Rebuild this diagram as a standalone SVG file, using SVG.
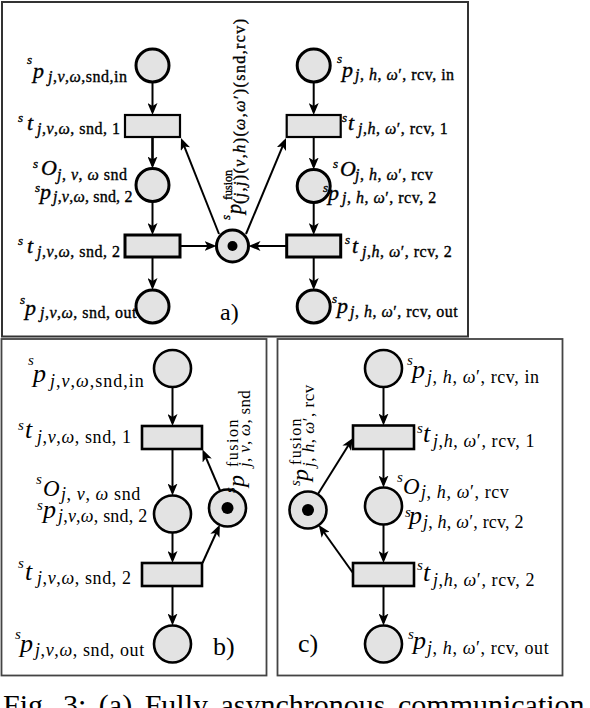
<svg xmlns="http://www.w3.org/2000/svg" width="590" height="708" viewBox="0 0 590 708">
<style>
.frame{fill:none;stroke:#333;stroke-width:2}
.pl{fill:#e3e3e3;stroke:#000}
.pa{stroke-width:3}
.pb{stroke-width:2.6}
.tk{fill:#000;stroke:none}
.ar{stroke:#000;stroke-width:2;fill:none;marker-end:url(#ah)}
.t{font-family:"Liberation Serif","Times New Roman",serif;fill:#000}
.ta{stroke:#000;stroke-width:0.35}
.i{font-style:italic}
.ma{font-size:22px;font-style:italic}
.sa{font-size:13px;font-style:italic}
.ba{font-size:16px;letter-spacing:0.5px}
.mb{font-size:26px;font-style:italic}
.ss{font-size:15px;font-style:italic}
.bb{font-size:18px;letter-spacing:0.6px}
.lt{font-size:26px}
</style>
<defs>
<marker id="ah" viewBox="0 0 12 10" markerWidth="12" markerHeight="10" refX="9" refY="5" orient="auto" markerUnits="userSpaceOnUse"><path d="M0,0 L12,5 L0,10 L3,5 z" fill="#000"/></marker>
</defs>

<rect class="frame" x="2" y="2" width="466" height="334.5"/>
<rect class="frame" x="1.5" y="339" width="265" height="336.5" style="stroke:#444;stroke-width:1.8"/>
<rect class="frame" x="277.5" y="339" width="285" height="336.5" style="stroke:#444;stroke-width:1.8"/>

<g id="connectors">
<line class="ar" x1="152.5" y1="82" x2="152.5" y2="112"/>
<line class="ar" x1="152.5" y1="137" x2="152.5" y2="165.5" style="stroke-width:2.6"/>
<line class="ar" x1="152.5" y1="201.5" x2="152.5" y2="232"/>
<line class="ar" x1="152.5" y1="257" x2="152.5" y2="287"/>
<line class="ar" x1="313.7" y1="82" x2="313.7" y2="112"/>
<line class="ar" x1="313.7" y1="137" x2="313.7" y2="166.5"/>
<line class="ar" x1="313.7" y1="202.5" x2="313.7" y2="232"/>
<line class="ar" x1="313.7" y1="257" x2="313.7" y2="287"/>
<line class="ar" x1="180" y1="246" x2="213.5" y2="246"/>
<line class="ar" x1="286.7" y1="246" x2="251.5" y2="246"/>
<line class="ar" x1="219" y1="234" x2="182.1" y2="140.8"/>
<line class="ar" x1="246" y1="234" x2="284.85" y2="140.8"/>

<line class="ar" x1="172.5" y1="387" x2="172.5" y2="423"/>
<line class="ar" x1="172.5" y1="449" x2="172.5" y2="492.5"/>
<line class="ar" x1="172.5" y1="532.5" x2="172.5" y2="560"/>
<line class="ar" x1="172.5" y1="586" x2="172.5" y2="622.5"/>
<line class="ar" x1="220.2" y1="491" x2="203.7" y2="452.3"/>
<line class="ar" x1="202.5" y1="563" x2="218.6" y2="527.5"/>

<line class="ar" x1="383.5" y1="387" x2="383.5" y2="422.5"/>
<line class="ar" x1="383.5" y1="449" x2="383.5" y2="484.5"/>
<line class="ar" x1="383.5" y1="524.5" x2="383.5" y2="560"/>
<line class="ar" x1="383.5" y1="586" x2="383.5" y2="622.5"/>
<line class="ar" x1="317.8" y1="494.3" x2="351.4" y2="440.5"/>
<line class="ar" x1="353" y1="573" x2="320.5" y2="527.5"/>
</g>

<!-- Panel a -->
<g id="a-p-snd-in"><circle class="pl pa" cx="152.5" cy="65.5" r="16.5"/>
<text class="t ta" x="27" y="64"><tspan class="sa">s</tspan><tspan class="ma" x="33" y="78">p</tspan><tspan class="ba" x="48" y="82"><tspan class="i">j</tspan>,<tspan class="i">v</tspan>,<tspan class="i">ω</tspan>,snd,in</tspan></text></g>
<g id="a-t-snd-1"><rect class="pl" x="125" y="115" width="55" height="22" style="stroke-width:2.2"/>
<text class="t ta" x="18" y="122"><tspan class="sa">s</tspan><tspan class="ma" x="27" y="130">t</tspan><tspan class="ba" x="37" y="134"><tspan class="i">j</tspan>,<tspan class="i">v</tspan>,<tspan class="i">ω</tspan>, snd, 1</tspan></text></g>
<g id="a-p-snd-2"><circle class="pl pa" cx="152.5" cy="185" r="16.5"/>
<text class="t ta" x="33" y="168"><tspan class="sa">s</tspan><tspan class="ma" x="41" y="175">O</tspan><tspan class="ba" x="57" y="180"><tspan class="i">j</tspan>, <tspan class="i">v</tspan>, <tspan class="i">ω</tspan> snd</tspan></text>
<text class="t ta" x="35" y="192"><tspan class="sa">s</tspan><tspan class="ma" x="40" y="199">p</tspan><tspan class="ba" style="letter-spacing:0.2px" x="53" y="202"><tspan class="i">j</tspan>,<tspan class="i">v</tspan>,<tspan class="i">ω</tspan>, snd, 2</tspan></text></g>
<g id="a-t-snd-2"><rect class="pl" x="125" y="235" width="55" height="22" style="stroke-width:3"/>
<text class="t ta" x="18" y="245"><tspan class="sa">s</tspan><tspan class="ma" x="27" y="253">t</tspan><tspan class="ba" x="37" y="257"><tspan class="i">j</tspan>,<tspan class="i">v</tspan>,<tspan class="i">ω</tspan>, snd, 2</tspan></text></g>
<g id="a-p-snd-out"><circle class="pl pa" cx="152.5" cy="306.5" r="16.5"/>
<text class="t ta" x="20" y="304"><tspan class="sa">s</tspan><tspan class="ma" x="25" y="315">p</tspan><tspan class="ba" x="40" y="318"><tspan class="i">j</tspan>,<tspan class="i">v</tspan>,<tspan class="i">ω</tspan>, snd, out</tspan></text></g>

<g id="a-p-rcv-in"><circle class="pl pa" cx="313.7" cy="65.5" r="16.5"/>
<text class="t ta" x="337" y="63"><tspan class="sa">s</tspan><tspan class="ma" x="342" y="77">p</tspan><tspan class="ba" x="355" y="80"><tspan class="i">j</tspan>, <tspan class="i">h</tspan>, <tspan class="i">ω</tspan>′, rcv, in</tspan></text></g>
<g id="a-t-rcv-1"><rect class="pl" x="286.7" y="115" width="54" height="22" style="stroke-width:2.2"/>
<text class="t ta" x="342" y="122"><tspan class="sa">s</tspan><tspan class="ma" x="348" y="130">t</tspan><tspan class="ba" x="358" y="134"><tspan class="i">j</tspan>,<tspan class="i">h</tspan>, <tspan class="i">ω</tspan>′, rcv, 1</tspan></text></g>
<g id="a-p-rcv-2"><circle class="pl pa" cx="313.7" cy="186" r="16.5"/>
<text class="t ta" x="333" y="168"><tspan class="sa">s</tspan><tspan class="ma" x="340" y="176">O</tspan><tspan class="ba" x="355" y="180"><tspan class="i">j</tspan>, <tspan class="i">h</tspan>, <tspan class="i">ω</tspan>′, rcv</tspan></text>
<text class="t ta" x="323" y="192"><tspan class="sa">s</tspan><tspan class="ma" x="328" y="200">p</tspan><tspan class="ba" x="342" y="203"><tspan class="i">j</tspan>, <tspan class="i">h</tspan>, <tspan class="i">ω</tspan>′, rcv, 2</tspan></text></g>
<g id="a-t-rcv-2"><rect class="pl" x="286.7" y="235" width="54" height="22" style="stroke-width:3"/>
<text class="t ta" x="345" y="244"><tspan class="sa">s</tspan><tspan class="ma" x="352" y="253">t</tspan><tspan class="ba" x="362" y="257"><tspan class="i">j</tspan>,<tspan class="i">h</tspan>, <tspan class="i">ω</tspan>′, rcv, 2</tspan></text></g>
<g id="a-p-rcv-out"><circle class="pl pa" cx="313.7" cy="306.5" r="16.5"/>
<text class="t ta" x="332" y="303"><tspan class="sa">s</tspan><tspan class="ma" x="337" y="313">p</tspan><tspan class="ba" x="350" y="317"><tspan class="i">j</tspan>, <tspan class="i">h</tspan>, <tspan class="i">ω</tspan>′, rcv, out</tspan></text></g>
<g id="a-p-fusion"><circle class="pl pa" cx="232.5" cy="246" r="16"/><circle class="tk" cx="232.5" cy="246" r="5"/>
<g transform="translate(241,220) rotate(-90)"><text class="t ta" x="0" y="-11"><tspan class="sa">s</tspan><tspan style="font-size:20px;font-style:italic" x="6" y="0">p</tspan><tspan style="font-size:12px" x="20" y="-9">fusion</tspan><tspan style="font-size:16px;letter-spacing:1.4px" x="16" y="4">(<tspan class="i">j</tspan>,<tspan class="i">j</tspan>)(<tspan class="i">v</tspan>,<tspan class="i">h</tspan>)(<tspan class="i">ω</tspan>,<tspan class="i">ω</tspan>′)(snd,rcv)</tspan></text></g></g>
<text class="t lt" x="220" y="320" style="font-size:24px">a)</text>

<!-- Panel b -->
<g id="b-p-snd-in"><circle class="pl pb" cx="172.5" cy="368.5" r="18.5"/>
<text class="t" x="28" y="365"><tspan class="ss">s</tspan><tspan class="mb" x="33" y="382">p</tspan><tspan class="bb" style="letter-spacing:1px" x="50" y="387"><tspan class="i">j</tspan>,<tspan class="i">v</tspan>,<tspan class="i">ω</tspan>,snd,in</tspan></text></g>
<g id="b-t-snd-1"><rect class="pl pb" x="142" y="426" width="60" height="23"/>
<text class="t" x="18" y="430"><tspan class="ss">s</tspan><tspan class="mb" x="25" y="438">t</tspan><tspan class="bb" x="37" y="443"><tspan class="i">j</tspan>,<tspan class="i">v</tspan>,<tspan class="i">ω</tspan>, snd, 1</tspan></text></g>
<g id="b-p-snd-2"><circle class="pl pb" cx="172.5" cy="514" r="18.5"/>
<text class="t" x="36" y="484"><tspan class="ss">s</tspan><tspan class="mb" style="font-size:23px" x="43" y="496">O</tspan><tspan class="bb" x="61" y="500"><tspan class="i">j</tspan>, <tspan class="i">v</tspan>, <tspan class="i">ω</tspan> snd</tspan></text>
<text class="t" x="37" y="510"><tspan class="ss">s</tspan><tspan class="mb" x="43" y="518">p</tspan><tspan class="bb" style="letter-spacing:0.2px" x="58" y="522"><tspan class="i">j</tspan>,<tspan class="i">v</tspan>,<tspan class="i">ω</tspan>, snd, 2</tspan></text></g>
<g id="b-p-fusion"><circle class="pl pb" cx="227.5" cy="508" r="18.5"/><circle class="tk" cx="227.5" cy="508" r="6"/>
<g transform="translate(244,493) rotate(-90)"><text class="t" x="0" y="-9"><tspan class="ss">s</tspan><tspan class="mb" style="font-size:24px" x="6" y="0">p</tspan><tspan style="font-size:16px;letter-spacing:1.5px" x="26" y="-6">fusion</tspan><tspan style="font-size:17px;letter-spacing:0.3px" x="26" y="6"><tspan class="i">j</tspan>, <tspan class="i">v</tspan>, <tspan class="i">ω</tspan>, snd</tspan></text></g></g>
<g id="b-t-snd-2"><rect class="pl pb" x="142" y="563" width="60" height="23"/>
<text class="t" x="18" y="568"><tspan class="ss">s</tspan><tspan class="mb" x="25" y="580">t</tspan><tspan class="bb" x="37" y="584"><tspan class="i">j</tspan>,<tspan class="i">v</tspan>,<tspan class="i">ω</tspan>, snd, 2</tspan></text></g>
<g id="b-p-snd-out"><circle class="pl pb" cx="172.5" cy="644" r="18.5"/>
<text class="t" x="15" y="639"><tspan class="ss">s</tspan><tspan class="mb" x="20" y="652">p</tspan><tspan class="bb" x="35" y="656"><tspan class="i">j</tspan>,<tspan class="i">v</tspan>,<tspan class="i">ω</tspan>, snd, out</tspan></text></g>
<text class="t lt" x="213" y="655">b)</text>

<!-- Panel c -->
<g id="c-p-rcv-in"><circle class="pl pb" cx="383.5" cy="368.5" r="18.5"/>
<text class="t" x="407" y="365"><tspan class="ss">s</tspan><tspan class="mb" x="412" y="378">p</tspan><tspan class="bb" x="427" y="383"><tspan class="i">j</tspan>, <tspan class="i">h</tspan>, <tspan class="i">ω</tspan>′, rcv, in</tspan></text></g>
<g id="c-t-rcv-1"><rect class="pl pb" x="353" y="425.5" width="61" height="23.5"/>
<text class="t" x="417" y="433"><tspan class="ss">s</tspan><tspan class="mb" x="423" y="442">t</tspan><tspan class="bb" x="433" y="447"><tspan class="i">j</tspan>,<tspan class="i">h</tspan>, <tspan class="i">ω</tspan>′, rcv, 1</tspan></text></g>
<g id="c-p-rcv-2"><circle class="pl pb" cx="383.5" cy="506" r="18.5"/>
<text class="t" x="397" y="482"><tspan class="ss">s</tspan><tspan class="mb" style="font-size:23px" x="403" y="494">O</tspan><tspan class="bb" x="421" y="498"><tspan class="i">j</tspan>, <tspan class="i">h</tspan>, <tspan class="i">ω</tspan>′, rcv</tspan></text>
<text class="t" x="405" y="517"><tspan class="ss">s</tspan><tspan class="mb" x="409" y="524">p</tspan><tspan class="bb" style="letter-spacing:0.2px" x="423" y="528"><tspan class="i">j</tspan>, <tspan class="i">h</tspan>, <tspan class="i">ω</tspan>′, rcv, 2</tspan></text></g>
<g id="c-p-fusion"><circle class="pl pb" cx="308" cy="510" r="18.5"/><circle class="tk" cx="308" cy="510" r="6"/>
<g transform="translate(308,486) rotate(-90)"><text class="t" x="0" y="-8"><tspan class="ss">s</tspan><tspan class="mb" style="font-size:24px" x="5" y="0">p</tspan><tspan style="font-size:16px;letter-spacing:1.3px" x="21" y="-7">fusion</tspan><tspan style="font-size:17px;letter-spacing:0.5px" x="19" y="6"><tspan class="i">j</tspan>, <tspan class="i">h</tspan>, <tspan class="i">ω</tspan>′, rcv</tspan></text></g></g>
<g id="c-t-rcv-2"><rect class="pl pb" x="353" y="563" width="61" height="23"/>
<text class="t" x="417" y="570"><tspan class="ss">s</tspan><tspan class="mb" x="423" y="581">t</tspan><tspan class="bb" x="433" y="586"><tspan class="i">j</tspan>,<tspan class="i">h</tspan>, <tspan class="i">ω</tspan>′, rcv, 2</tspan></text></g>
<g id="c-p-rcv-out"><circle class="pl pb" cx="383.5" cy="644" r="18.5"/>
<text class="t" x="408" y="639"><tspan class="ss">s</tspan><tspan class="mb" x="413" y="649">p</tspan><tspan class="bb" x="427" y="654"><tspan class="i">j</tspan>, <tspan class="i">h</tspan>, <tspan class="i">ω</tspan>′, rcv, out</tspan></text></g>
<text class="t lt" x="298" y="652">c)</text>

<text class="t" x="3" y="715" style="font-size:30px;word-spacing:5px">Fig. 3: (a) Fully asynchronous communication</text>
</svg>
